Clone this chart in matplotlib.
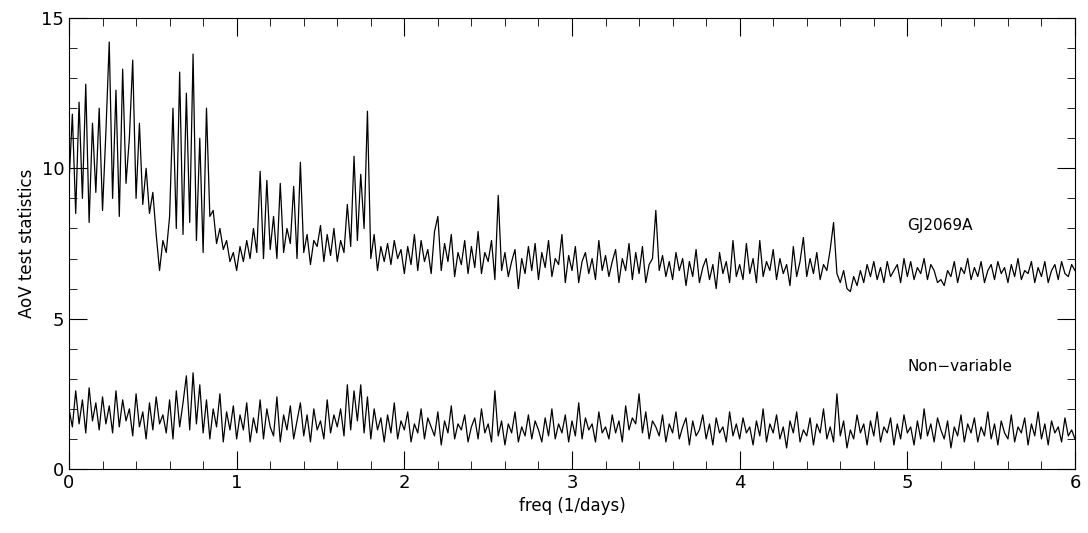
import numpy as np
import matplotlib
matplotlib.use("Agg")
import matplotlib.pyplot as plt
from matplotlib.ticker import MultipleLocator

freq_start, freq_step = 0.0, 0.02

gj2069a = np.array("""
9.5 11.8 8.5 12.2 9.0 12.8 8.2 11.5 9.2 12.0
8.6 11.2 14.2 9.0 12.6 8.4 13.3 9.5 11.0 13.6
9.0 11.5 8.8 10.0 8.5 9.2 7.8 6.6 7.6 7.2
8.4 12.0 8.0 13.2 7.8 12.5 8.2 13.8 7.6 11.0
7.2 12.0 8.4 8.6 7.5 8.0 7.3 7.6 6.9 7.2
6.6 7.4 6.9 7.6 7.0 8.0 7.2 9.9 7.0 9.6
7.3 8.4 7.0 9.5 7.2 8.0 7.5 9.4 7.0 10.2
7.2 7.8 6.8 7.6 7.4 8.1 6.9 7.8 7.1 8.0
6.9 7.6 7.2 8.8 7.4 10.4 7.6 9.8 8.0 11.9
7.0 7.8 6.6 7.4 6.9 7.5 6.8 7.6 7.0 7.3
6.5 7.4 6.8 7.8 6.6 7.6 6.9 7.3 6.5 7.9
8.4 6.6 7.5 6.9 7.8 6.4 7.2 6.8 7.6 6.5
7.4 6.7 7.9 6.5 7.2 6.9 7.6 6.3 9.1 6.6
7.2 6.4 6.9 7.3 6.0 7.0 6.5 7.4 6.6 7.5
6.3 7.2 6.7 7.6 6.4 7.0 6.8 7.8 6.2 7.1
6.6 7.4 6.2 6.9 7.2 6.5 7.0 6.3 7.6 6.6
7.1 6.4 6.9 7.3 6.2 7.0 6.6 7.5 6.3 7.2
6.5 7.4 6.2 6.8 7.0 8.6 6.6 7.1 6.4 6.9
6.3 7.2 6.6 7.0 6.1 6.9 6.4 7.3 6.2 6.7
7.0 6.3 6.8 6.0 7.2 6.5 6.9 6.2 7.6 6.4
6.8 6.3 7.5 6.5 7.0 6.2 7.6 6.4 6.9 6.6
7.3 6.3 7.0 6.5 6.8 6.1 7.4 6.4 6.9 7.7
6.4 7.0 6.5 7.2 6.3 6.8 6.6 7.3 8.2 6.5
6.2 6.6 6.0 5.9 6.4 6.1 6.6 6.2 6.8 6.4
6.9 6.3 6.7 6.2 6.9 6.4 6.6 6.8 6.2 7.0
6.4 6.9 6.3 6.7 6.5 7.0 6.3 6.8 6.6 6.2
6.3 6.1 6.6 6.4 6.9 6.2 6.7 6.5 7.0 6.3
6.7 6.4 6.9 6.2 6.6 6.8 6.3 6.9 6.5 6.7
6.2 6.8 6.4 7.0 6.3 6.6 6.5 6.9 6.2 6.7
6.4 6.9 6.2 6.6 6.8 6.3 6.9 6.5 6.4 6.8
6.6
""".split(), dtype=float)

nonvariable = np.array("""
2.0 1.4 2.6 1.5 2.3 1.2 2.7 1.6 2.2 1.3
2.4 1.5 2.1 1.2 2.6 1.4 2.3 1.6 2.0 1.1
2.5 1.4 1.9 1.0 2.2 1.3 2.4 1.5 1.8 1.2
2.3 1.0 2.6 1.4 2.2 3.1 1.3 3.2 1.5 2.8
1.2 2.3 1.0 2.0 1.4 2.5 0.9 1.9 1.3 2.1
1.0 1.8 1.3 2.2 0.9 1.7 1.2 2.3 1.0 2.0
1.4 1.1 2.4 0.9 1.8 1.3 2.1 1.0 1.6 2.2
1.1 1.8 0.9 2.0 1.3 1.6 1.0 2.3 1.2 1.8
1.4 2.0 1.1 2.8 1.3 2.6 1.6 2.8 1.2 2.4
1.0 2.0 1.3 1.7 0.9 1.8 1.2 2.2 1.0 1.6
1.3 1.9 0.9 1.5 1.2 2.0 1.0 1.7 1.4 1.1
1.9 0.8 1.6 1.2 2.1 1.0 1.5 1.3 1.8 0.9
1.4 1.7 1.0 2.0 1.2 1.5 0.9 2.6 1.1 1.6
0.8 1.5 1.2 1.9 0.9 1.4 1.1 1.8 1.0 1.6
1.3 0.9 1.7 1.1 2.0 1.0 1.5 1.2 1.8 0.9
1.6 1.1 2.2 1.0 1.7 1.3 1.5 0.9 1.9 1.2
1.4 1.0 1.8 1.2 1.6 0.9 2.1 1.3 1.7 1.5
2.5 1.2 1.9 1.0 1.6 1.4 1.1 1.8 0.9 1.5
1.2 1.9 1.0 1.4 1.7 0.8 1.6 1.1 1.3 1.8
1.0 1.5 0.8 1.7 1.2 1.4 0.9 1.9 1.1 1.5
1.0 1.7 1.2 1.4 0.8 1.6 1.1 2.0 0.9 1.5
1.2 1.8 1.0 1.4 0.7 1.6 1.2 1.9 0.9 1.3
1.1 1.7 0.8 1.5 1.2 2.0 1.0 1.4 0.9 2.5
1.1 1.6 0.7 1.3 1.0 1.8 1.2 1.5 0.8 1.6
1.1 1.9 0.9 1.4 1.2 1.7 0.8 1.5 1.0 1.8
1.2 1.4 0.8 1.6 1.0 2.0 1.1 1.5 0.9 1.7
1.3 1.0 1.6 0.7 1.4 1.1 1.8 0.9 1.5 1.2
1.7 0.9 1.4 1.1 1.9 1.0 1.5 0.8 1.6 1.2
1.0 1.8 0.9 1.4 1.2 1.7 0.8 1.5 1.1 1.9
1.0 1.5 0.8 1.6 1.2 1.4 0.9 1.7 1.1 1.3
1.0
""".split(), dtype=float)

freq = freq_start + freq_step * np.arange(len(gj2069a))

plt.rcParams['font.family'] = ['DejaVu Sans']
fig = plt.figure(figsize=(10.88, 5.33), dpi=100)
ax = fig.add_axes([69/1088, 1-469/533, (1075-69)/1088, (469-18)/533])
ax.plot(freq, gj2069a, color='black', lw=0.9)
ax.plot(freq, nonvariable, color='black', lw=0.9)
ax.set_xlim(0, 6)
ax.set_ylim(0, 15)
ax.xaxis.set_major_locator(MultipleLocator(1))
ax.xaxis.set_minor_locator(MultipleLocator(0.2))
ax.yaxis.set_major_locator(MultipleLocator(5))
ax.yaxis.set_minor_locator(MultipleLocator(1))
ax.tick_params(which='both', direction='in', top=True, right=True, labelsize=13)
ax.tick_params(which='major', length=13)
ax.tick_params(which='minor', length=6)
ax.set_xlabel('freq (1/days)', fontsize=12)
ax.set_ylabel('AoV test statistics', fontsize=12)
ax.text(5.0, 8.1, 'GJ2069A', fontsize=11, va='center')
ax.text(5.0, 3.4, 'Non\u2212variable', fontsize=11, va='center')
fig.savefig('out.png', dpi=100)
